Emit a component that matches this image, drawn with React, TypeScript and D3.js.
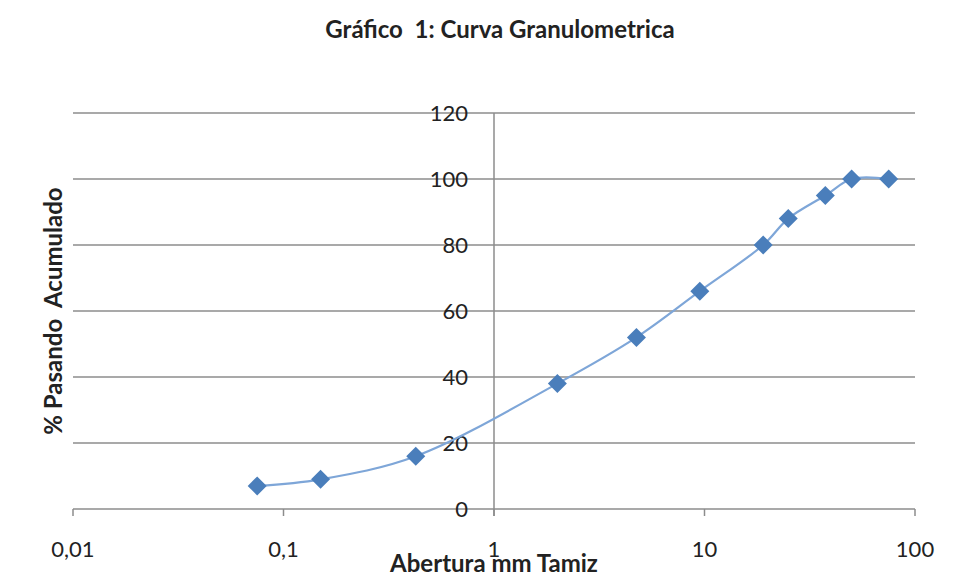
import React from "react";
import * as d3 from "d3";

const sieveSizes = [0.075, 0.15, 0.425, 2, 4.75, 9.5, 19, 25, 37.5, 50, 75];
const percentPassing = [7, 9, 16, 38, 52, 66, 80, 88, 95, 100, 100];
const xTicks = [0.01, 0.1, 1, 10, 100];
const xTickLabels = ["0,01", "0,1", "1", "10", "100"];
const yTicks = [0, 20, 40, 60, 80, 100, 120];

const W = 953;
const H = 581;
const FONT = "Lato, 'Open Sans', sans-serif";

export default function App() {
  const x = d3.scaleLog().domain([0.01, 100]).range([73, 915]);
  const y = d3.scaleLinear().domain([0, 120]).range([509, 113]);
  const pts = sieveSizes.map((s, i) => [x(s), y(percentPassing[i])] as [number, number]);
  const line = d3.line().curve(d3.curveCatmullRom.alpha(0.5))(pts) || "";
  const d = 9.5;
  const diamond = `M0,${-d}L${d},0L0,${d}L${-d},0Z`;
  const axisX = x(1);
  return (
    <svg width={W} height={H} style={{ position: "absolute", left: 0, top: 0, background: "#fff" }} fontFamily={FONT}>
      <rect x={0} y={0} width={W} height={H} fill="#fff" />
      <text x={500} y={38} textAnchor="middle" fontSize={24} fontWeight="bold" fill="#222" style={{ whiteSpace: "pre" }}>
        {"Gráfico  1: Curva Granulometrica"}
      </text>
      {yTicks.filter((t) => t > 0).map((t) => (
        <line key={t} x1={73} x2={915} y1={y(t)} y2={y(t)} stroke="#8c8c8c" strokeWidth={1.5} />
      ))}
      <line x1={73} x2={915} y1={y(0)} y2={y(0)} stroke="#8c8c8c" strokeWidth={1.5} />
      {xTicks.map((t) => (
        <line key={t} x1={x(t)} x2={x(t)} y1={y(0)} y2={y(0) + 7} stroke="#8c8c8c" strokeWidth={1.5} />
      ))}
      <line x1={axisX} x2={axisX} y1={y(120)} y2={y(0) + 7} stroke="#8c8c8c" strokeWidth={1.5} />
      {yTicks.map((t) => (
        <text key={t} x={468} y={y(t) + 8} textAnchor="end" fontSize={22} fill="#222">
          {t}
        </text>
      ))}
      {xTicks.map((t, i) => (
        <text key={t} x={x(t)} y={557} textAnchor="middle" fontSize={22} fill="#222">
          {xTickLabels[i]}
        </text>
      ))}
      <text x={494} y={572} textAnchor="middle" fontSize={24} fontWeight="bold" fill="#222">
        Abertura mm Tamiz
      </text>
      <text
        transform={`translate(62,311) rotate(-90)`}
        textAnchor="middle"
        fontSize={24}
        fontWeight="bold"
        fill="#222"
        style={{ whiteSpace: "pre" }}
      >
        {"% Pasando  Acumulado"}
      </text>
      <path d={line} fill="none" stroke="#7ea6d8" strokeWidth={2.2} />
      {pts.map(([px, py], i) => (
        <path key={i} d={diamond} transform={`translate(${px},${py})`} fill="#4a7ebb" />
      ))}
    </svg>
  );
}
